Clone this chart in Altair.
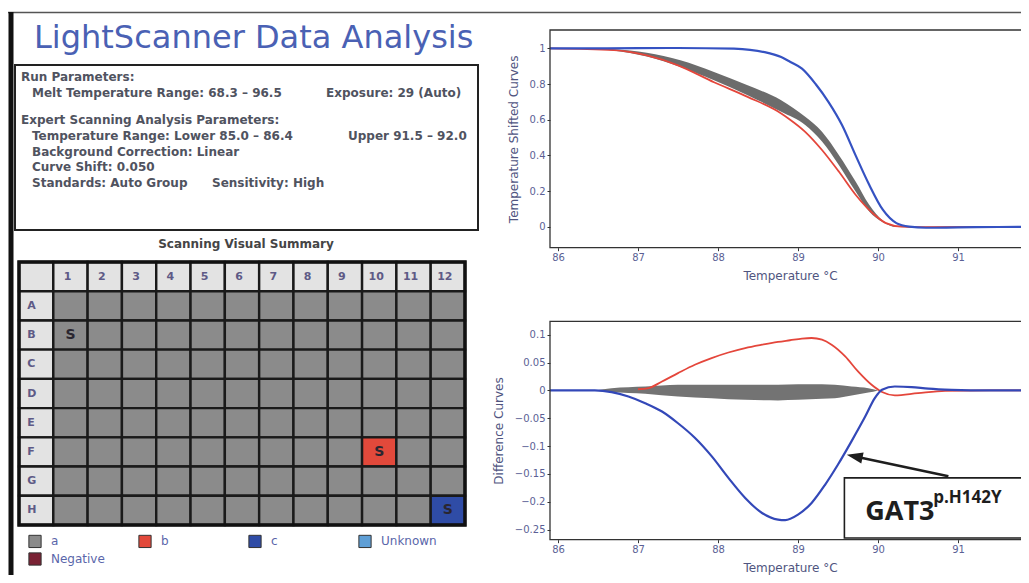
import altair as alt
import pandas as pd

W, H = 1013, 567
M = 8  # page margin: a reference pixel p sits at chart pixel p - M

# ---------------- text content ----------------
TITLE = "LightScanner Data Analysis"
RUN_HEAD = "Run Parameters:"
RUN_LINE = ["Melt Temperature Range:  68.3 – 96.5", "Exposure:  29 (Auto)"]
EXP_HEAD = "Expert Scanning Analysis Parameters:"
EXP_RANGE = ["Temperature Range:   Lower 85.0 – 86.4", "Upper 91.5 – 92.0"]
EXP_BG = "Background Correction:  Linear"
EXP_SHIFT = "Curve Shift:  0.050"
EXP_STD = ["Standards:  Auto Group", "Sensitivity:  High"]
GRID_TITLE = "Scanning Visual Summary"
TOP_XTITLE = "Temperature °C"
TOP_YTITLE = "Temperature Shifted Curves"
BOT_YTITLE = "Difference Curves"
ANNOT_MAIN = "GAT3"
ANNOT_SUP = "p.H142Y"

# ---------------- plate ----------------
ROWS = ["A", "B", "C", "D", "E", "F", "G", "H"]
COLS = [str(i) for i in range(1, 13)]
CALLS = {"F10": "b", "H12": "c"}          # every other well is group "a"
STANDARDS = ["B1", "F10", "H12"]
GROUPS = ["a", "b", "c", "Unknown", "Negative"]

# ---------------- temperature shifted curves ----------------
TOP_BLUE_T = [85.9, 86.5, 87.5, 88.2, 88.4, 88.58, 88.79, 88.9, 89.05, 89.22, 89.38,
              89.55, 89.72, 89.89, 90.06, 90.23, 90.39, 90.6, 91.0, 91.5, 92.0]
TOP_BLUE_V = [1.0, 1.0, 1.002, 0.998, 0.992, 0.979, 0.951, 0.925, 0.886, 0.80, 0.70,
              0.57, 0.40, 0.235, 0.095, 0.02, 0.0, -0.006, -0.004, -0.002, 0.0]
TOP_RED_T = [85.9, 86.7, 87.11, 87.5, 87.95, 88.37, 88.79, 88.88, 89.09, 89.30, 89.51,
             89.72, 89.93, 90.1, 90.3, 90.6, 92.0]
TOP_RED_V = [1.0, 0.99, 0.96, 0.905, 0.81, 0.728, 0.635, 0.607, 0.532, 0.43, 0.309,
             0.179, 0.077, 0.02, 0.0, -0.003, 0.0]
TOP_BAND_T = [85.9, 86.3, 86.69, 87.11, 87.53, 87.95, 88.37, 88.79, 89.09, 89.30, 89.51,
              89.72, 89.89, 90.06, 90.23, 90.5, 92.0]
TOP_BAND_HI = [1.0, 1.0, 0.995, 0.976, 0.933, 0.868, 0.793, 0.709, 0.616, 0.532, 0.402,
               0.253, 0.123, 0.035, 0.004, 0.0, 0.0]
TOP_BAND_LO = [1.0, 0.999, 0.988, 0.954, 0.896, 0.821, 0.737, 0.644, 0.570, 0.477, 0.346,
               0.197, 0.085, 0.025, -0.002, -0.003, -0.002]

# ---------------- difference curves ----------------
BOT_BLUE_T = [85.9, 86.46, 86.67, 86.88, 87.09, 87.30, 87.50, 87.71, 87.92, 88.13, 88.34,
              88.55, 88.75, 88.84, 89.00, 89.17, 89.34, 89.50, 89.67, 89.84, 89.96, 90.05,
              90.21, 90.42, 90.63, 90.92, 91.4, 92.0]
BOT_BLUE_V = [0.0, 0.0, -0.003, -0.011, -0.023, -0.038, -0.059, -0.085, -0.118, -0.157, -0.193,
              -0.220, -0.232, -0.233, -0.223, -0.202, -0.169, -0.133, -0.091, -0.047, -0.014, 0.001,
              0.007, 0.006, 0.003, 0.001, 0.0, 0.0]
BOT_RED_T = [87.0, 87.13, 87.30, 87.50, 87.71, 87.92, 88.13, 88.34, 88.55, 88.75, 88.90,
             89.05, 89.17, 89.30, 89.42, 89.59, 89.75, 89.92, 90.05, 90.21, 90.50, 90.84, 91.4, 92.0]
BOT_RED_V = [0.002, 0.004, 0.016, 0.031, 0.046, 0.058, 0.068, 0.076, 0.082, 0.087, 0.090,
             0.093, 0.094, 0.091, 0.082, 0.061, 0.034, 0.010, -0.003, -0.009, -0.005, -0.001, 0.0, 0.0]
BOT_BAND_T = [86.46, 86.67, 87.09, 87.50, 87.92, 88.34, 88.75, 89.00, 89.30, 89.46, 89.67,
              89.88, 90.0]
BOT_BAND_HI = [0.0, 0.004, 0.007, 0.010, 0.010, 0.010, 0.010, 0.011, 0.011, 0.010, 0.007,
               0.004, 0.0]
BOT_BAND_LO = [0.0, -0.003, -0.006, -0.011, -0.014, -0.017, -0.018, -0.017, -0.015, -0.014,
               -0.009, -0.004, 0.0]

# annotation (data coordinates of the difference plot)
ARROW_TIP = (89.61, -0.1154)
ARROW_BACK = (89.73, -0.119)
ARROW_TAIL = (90.88, -0.154)
BOX_X = (89.58, 92.3)
BOX_Y = (-0.265, -0.157)
MAIN_POS = (89.84, -0.232)
SUP_POS = (90.69, -0.202)

# ---------------- tables ----------------
ONE = pd.DataFrame({"k": [0]})
top_band_df = pd.DataFrame({"t": TOP_BAND_T, "lo": TOP_BAND_LO, "hi": TOP_BAND_HI})
top_red_df = pd.DataFrame({"t": TOP_RED_T, "v": TOP_RED_V})
top_blue_df = pd.DataFrame({"t": TOP_BLUE_T, "v": TOP_BLUE_V})
bot_band_df = pd.DataFrame({"t": BOT_BAND_T, "lo": BOT_BAND_LO, "hi": BOT_BAND_HI})
bot_red_df = pd.DataFrame({"t": BOT_RED_T, "v": BOT_RED_V})
bot_blue_df = pd.DataFrame({"t": BOT_BLUE_T, "v": BOT_BLUE_V})

cells = []
for r in ROWS:
    for c in COLS:
        key = r + c
        cells.append({"row": r, "col": c, "group": CALLS.get(key, "a"),
                      "mark": "S" if key in STANDARDS else ""})
cells_df = pd.DataFrame(cells)
hdr = [{"row": "0", "col": "0", "label": "", "kind": "corner"}]
hdr += [{"row": "0", "col": c, "label": c, "kind": "col"} for c in COLS]
hdr += [{"row": r, "col": "0", "label": r, "kind": "row"} for r in ROWS]
hdr_df = pd.DataFrame(hdr)

# ---------------- styles ----------------
FONT = "DejaVu Sans"
TXT_COL = "#50535f"
GROUP_COLORS = ["#8b8b8b", "#e2493b", "#2f4ca6", "#5f9fd6", "#7a2234"]


def value_text(s, x, y, size=12, weight="bold", color=TXT_COL, align="left",
               font=FONT, baseline="middle"):
    return alt.Chart(ONE).mark_text(
        align=align, baseline=baseline, font=font, fontSize=size,
        fontWeight=weight, color=color
    ).encode(x=alt.value(x - M), y=alt.value(y - M), text=alt.value(s))


# ---------------- page frame ----------------
left_border = alt.Chart(ONE).mark_rule(color="#111111", strokeWidth=5).encode(
    x=alt.value(11 - M), y=alt.value(12 - M), y2=alt.value(H))
top_line = alt.Chart(ONE).mark_rule(color="#555555", strokeWidth=1.5).encode(
    x=alt.value(0), x2=alt.value(W), y=alt.value(12.5 - M))

title = value_text(TITLE, 34, 48, size=32, weight="normal", color="#4a61b4",
                   baseline="alphabetic")

param_box = alt.Chart(ONE).mark_rect(fill="white", stroke="#222222", strokeWidth=2).encode(
    x=alt.value(15 - M), x2=alt.value(478 - M), y=alt.value(65 - M), y2=alt.value(230 - M))

param_texts = [
    value_text(RUN_HEAD, 21, 77),
    value_text(RUN_LINE[0], 32, 93),
    value_text(RUN_LINE[1], 326, 93),
    value_text(EXP_HEAD, 21, 120),
    value_text(EXP_RANGE[0], 32, 136),
    value_text(EXP_RANGE[1], 348, 136),
    value_text(EXP_BG, 32, 152),
    value_text(EXP_SHIFT, 32, 167),
    value_text(EXP_STD[0], 32, 183),
    value_text(EXP_STD[1], 212, 183),
]

grid_title = value_text(GRID_TITLE, 246, 244, size=12, color="#454545", align="center")

# ---------------- plate heat map ----------------
GX0, GX1, GY0, GY1 = 19 - M, 465 - M, 262 - M, 525 - M
GX = alt.Scale(domain=["0"] + COLS, range=[GX0, GX1], paddingInner=0, paddingOuter=0)
GY = alt.Scale(domain=["0"] + ROWS, range=[GY0, GY1], paddingInner=0, paddingOuter=0)
hx = alt.X("col:N", scale=GX, axis=None, sort=None)
hy = alt.Y("row:N", scale=GY, axis=None, sort=None)

hdr_rect = alt.Chart(hdr_df).mark_rect(fill="#e3e3e3", stroke="#1a1a1a", strokeWidth=2.4).encode(
    x=hx, y=hy)
body_rect = alt.Chart(cells_df).mark_rect(stroke="#1a1a1a", strokeWidth=2.4).encode(
    x=hx, y=hy,
    fill=alt.Fill("group:N", scale=alt.Scale(domain=GROUPS, range=GROUP_COLORS),
                  sort=GROUPS,
                  legend=alt.Legend(
                      orient="none", legendX=20, legendY=526, title=None, columns=4,
                      direction="horizontal", values=GROUPS,
                      gridAlign="all", columnPadding=29, rowPadding=0, padding=0,
                      symbolType="square", symbolSize=150, symbolStrokeColor="#333333",
                      symbolStrokeWidth=1, labelFont=FONT, labelFontSize=12,
                      labelColor="#5a66aa", labelOffset=9)))
col_lbl = alt.Chart(hdr_df).transform_filter("datum.kind == 'col'").mark_text(
    font=FONT, fontSize=11, fontWeight="bold", color="#5e5a86", dx=-3).encode(
    x=hx, y=hy, text="label:N")
row_lbl = alt.Chart(hdr_df).transform_filter("datum.kind == 'row'").mark_text(
    font=FONT, fontSize=11, fontWeight="bold", color="#5e5a86", align="left", dx=-9).encode(
    x=hx, y=hy, text="label:N")
s_lbl = alt.Chart(cells_df).transform_filter("datum.mark != ''").mark_text(
    font=FONT, fontSize=14, fontWeight="bold", color="#2a2630").encode(
    x=hx, y=hy, text="mark:N")
grid_frame = alt.Chart(ONE).mark_rect(fillOpacity=0, stroke="#111111", strokeWidth=3.5).encode(
    x=alt.value(GX0), x2=alt.value(GX1), y=alt.value(GY0), y2=alt.value(GY1))
plate = alt.layer(hdr_rect, body_rect, col_lbl, row_lbl, s_lbl)

# ---------------- axes ----------------
AXS = dict(domain=False, grid=False, ticks=True, tickSize=3, tickColor="#333333",
           labelFont=FONT, labelFontSize=10, labelColor="#5b5f95", labelPadding=2,
           titleFont=FONT, titleFontSize=12, titleFontWeight="normal", titleColor="#50557f")
XDOM = [85.9, 91.9]
XR = [550 - M, 1030 - M]
XTICKS = [86, 87, 88, 89, 90, 91]

# top plot
TYDOM = [-0.118, 1.103]
TYR = [247.7 - M, 30 - M]
TSX = alt.Scale(domain=XDOM, range=XR, nice=False, zero=False)
TSY = alt.Scale(domain=TYDOM, range=TYR, nice=False, zero=False)
TAX = alt.Axis(orient="bottom", offset=TYR[0] - H, values=XTICKS, format="d",
               title=TOP_XTITLE, titlePadding=8, **AXS)
TAY = alt.Axis(orient="left", offset=-XR[0], values=[0, 0.2, 0.4, 0.6, 0.8, 1], format="~g",
               title=TOP_YTITLE, titlePadding=9, **AXS)

t_band = alt.Chart(top_band_df).mark_area(color="#6c6c6c", interpolate="monotone").encode(
    x=alt.X("t:Q", scale=TSX, axis=TAX), y=alt.Y("lo:Q", scale=TSY, axis=TAY), y2="hi:Q")
t_red = alt.Chart(top_red_df).mark_line(color="#e4463b", strokeWidth=1.8, interpolate="monotone").encode(
    x=alt.X("t:Q", scale=TSX, axis=TAX), y=alt.Y("v:Q", scale=TSY, axis=TAY))
t_blue = alt.Chart(top_blue_df).mark_line(color="#3552c2", strokeWidth=2.2, interpolate="monotone").encode(
    x=alt.X("t:Q", scale=TSX, axis=TAX), y=alt.Y("v:Q", scale=TSY, axis=TAY))
t_frame = alt.Chart(ONE).mark_rect(fillOpacity=0, stroke="#333333", strokeWidth=1.3).encode(
    x=alt.XDatum(XDOM[0], scale=TSX, axis=TAX), x2=alt.datum(XDOM[1]),
    y=alt.YDatum(TYDOM[0], scale=TSY, axis=TAY), y2=alt.datum(TYDOM[1]))
top_plot = alt.layer(t_band, t_red, t_blue, t_frame)

# bottom plot
BYDOM = [-0.268, 0.124]
BYR = [539.7 - M, 321.3 - M]
BSX = alt.Scale(domain=XDOM, range=XR, nice=False, zero=False)
BSY = alt.Scale(domain=BYDOM, range=BYR, nice=False, zero=False)
BAX = alt.Axis(orient="bottom", offset=BYR[0] - H, values=XTICKS, format="d",
               title=TOP_XTITLE, titlePadding=8, **AXS)
BAY = alt.Axis(orient="left", offset=-XR[0],
               values=[-0.25, -0.2, -0.15, -0.1, -0.05, 0, 0.05, 0.1], format="~g",
               title=BOT_YTITLE, titlePadding=9, **AXS)


def bx(f):
    return alt.X(f, scale=BSX, axis=BAX)


def by(f):
    return alt.Y(f, scale=BSY, axis=BAY)


def bxd(v):
    return alt.XDatum(v, scale=BSX, axis=BAX)


def byd(v):
    return alt.YDatum(v, scale=BSY, axis=BAY)


b_band = alt.Chart(bot_band_df).mark_area(color="#737373", interpolate="monotone").encode(
    x=bx("t:Q"), y=by("lo:Q"), y2="hi:Q")
b_red = alt.Chart(bot_red_df).mark_line(color="#e4463b", strokeWidth=1.8, interpolate="monotone").encode(
    x=bx("t:Q"), y=by("v:Q"))
b_blue = alt.Chart(bot_blue_df).mark_line(color="#3348b8", strokeWidth=2.2, interpolate="monotone").encode(
    x=bx("t:Q"), y=by("v:Q"))
b_frame = alt.Chart(ONE).mark_rect(fillOpacity=0, stroke="#333333", strokeWidth=1.3).encode(
    x=bxd(XDOM[0]), x2=alt.datum(XDOM[1]), y=byd(BYDOM[0]), y2=alt.datum(BYDOM[1]))
b_box = alt.Chart(ONE).mark_rect(fill="white", stroke="#1e1e1e", strokeWidth=1.6).encode(
    x=bxd(BOX_X[0]), x2=alt.datum(BOX_X[1]), y=byd(BOX_Y[0]), y2=alt.datum(BOX_Y[1]))
b_arrow = alt.Chart(ONE).mark_rule(color="#1e1e1e", strokeWidth=2.6).encode(
    x=bxd(ARROW_TAIL[0]), x2=alt.datum(ARROW_BACK[0]),
    y=byd(ARROW_TAIL[1]), y2=alt.datum(ARROW_BACK[1]))
b_head = alt.Chart(ONE).mark_point(shape="M0,0L-0.7,2L0.7,2Z", size=256, filled=True,
                                    color="#1e1e1e", opacity=1, angle=282).encode(
    x=bxd(ARROW_TIP[0]), y=byd(ARROW_TIP[1]))
b_main = alt.Chart(ONE).mark_text(font="Open Sans", fontSize=27, fontWeight="bold",
                                  color="#1e1e1e", align="left", baseline="alphabetic").encode(
    x=bxd(MAIN_POS[0]), y=byd(MAIN_POS[1]), text=alt.value(ANNOT_MAIN))
b_sup = alt.Chart(ONE).mark_text(font="Open Sans", fontSize=17, fontWeight="bold",
                                 color="#1e1e1e", align="left", baseline="alphabetic").encode(
    x=bxd(SUP_POS[0]), y=byd(SUP_POS[1]), text=alt.value(ANNOT_SUP))
bottom_plot = alt.layer(b_band, b_red, b_blue, b_frame, b_box, b_arrow, b_head, b_main, b_sup)

chart = alt.layer(
    top_line, title, param_box, *param_texts, grid_title,
    plate, grid_frame, top_plot, bottom_plot, left_border
).resolve_scale(x="independent", y="independent").properties(
    width=W, height=H, padding=0, autosize=alt.AutoSizeParams(type="none")
).configure_view(stroke=None)

chart.save("out.html", embed_options={"renderer": "svg", "actions": False})
